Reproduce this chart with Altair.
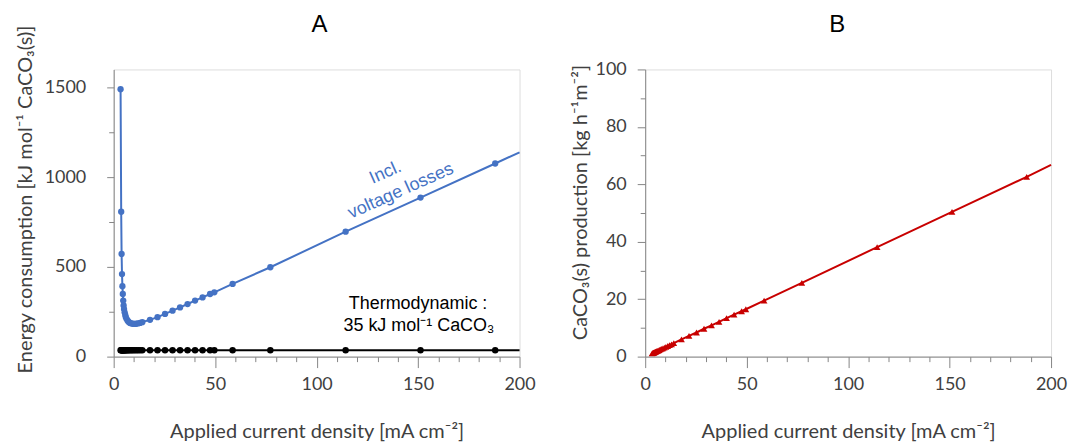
import altair as alt
import pandas as pd

# ---------------- data ----------------
current_density = [3.4, 3.7, 3.9, 4.1, 4.3, 4.5, 4.7, 4.9, 5.1, 5.4, 5.7, 6.0, 6.4, 6.9,
                   7.4, 8.0, 8.7, 9.4, 10.2, 11.1, 12.0, 13.0, 14.1, 17.9, 21.6, 25.3,
                   29.0, 32.7, 36.4, 40.1, 43.8, 47.5, 49.6, 58.6, 77.2, 114.3, 151.2, 188.0]
energy_incl_losses = [1490, 807, 572, 460, 392, 349, 312, 285, 265, 247, 232, 220, 209, 200,
                      193, 188, 185, 183, 182, 183, 185, 188, 192, 205, 220, 238,
                      256, 274, 293, 312, 330, 349, 358, 405, 498, 696, 886, 1076]
energy_thermodynamic = [35, 35, 35, 35, 35, 35, 35, 35, 35, 35, 35, 35, 35, 35,
                        35, 35, 35, 35, 35, 35, 35, 35, 35, 35, 35, 35,
                        35, 35, 35, 35, 35, 35, 35, 35, 35, 35, 35, 35]
production = [1.1, 1.2, 1.3, 1.4, 1.4, 1.5, 1.6, 1.6, 1.7, 1.8, 1.9, 2.0, 2.1, 2.3,
              2.5, 2.7, 2.9, 3.1, 3.4, 3.7, 4.0, 4.3, 4.7, 6.0, 7.2, 8.4,
              9.7, 10.9, 12.1, 13.4, 14.6, 15.8, 16.5, 19.5, 25.7, 38.1, 50.4, 62.6]

# the drawn lines run on to the right edge of the axes
line_end_current = [200]
line_end_energy = [1138]
line_end_thermo = [35]
line_end_production = [66.8]

# annotation texts (panel A) and where they sit, in data units
annot_text = ["Incl.", "voltage losses"]
annot_x = [134, 141.5]
annot_y = [1024, 922]
thermo_text = ["Thermodynamic :", "35 kJ mol⁻¹ CaCO₃"]
thermo_x = [150, 150.4]
thermo_y = [293, 172]

x_ticks = list(range(0, 201, 10))
y_ticks_a = list(range(0, 1501, 250))
y_ticks_b = list(range(0, 101, 10))

title_a = "A"
title_b = "B"
x_title = "Applied current density [mA cm⁻²]"
y_title_a = "Energy consumption [kJ mol⁻¹ CaCO₃(s)]"
y_title_b = "CaCO₃(s) production [kg h⁻¹m⁻²]"

# ---------------- tables ----------------
pts = pd.DataFrame({"j": current_density, "E": energy_incl_losses,
                    "T": energy_thermodynamic, "P": production})
ext = pd.DataFrame({"j": line_end_current, "E": line_end_energy,
                    "T": line_end_thermo, "P": line_end_production})
lines = pd.concat([pts, ext], ignore_index=True)
annot = pd.DataFrame({"t": annot_text, "x": annot_x, "y": annot_y})
thermo = pd.DataFrame({"t": thermo_text, "x": thermo_x, "y": thermo_y})

BLUE = "#4472C4"
RED = "#C80000"
AXIS_GRAY = "#868686"
W, H = 407, 288

common_axis = dict(domainColor=AXIS_GRAY, tickColor=AXIS_GRAY, labelColor="#404040",
                   titleColor="#404040", labelFont="Lato", titleFont="Lato",
                   labelFontSize=18, titleFontSize=20, titleFontWeight="normal",
                   grid=False, labelFlush=False, labelOverlap=False, format="d")

x_axis = alt.Axis(values=x_ticks, title=x_title,
                  labelExpr="datum.value % 50 === 0 ? datum.label : ''",
                  tickSize={"condition": {"test": "datum.value % 50 === 0", "value": 11}, "value": 5},
                  labelPadding=8, titlePadding=28, **common_axis)
y_axis_a = alt.Axis(values=y_ticks_a, title=y_title_a, titleY=130,
                    labelExpr="datum.value % 500 === 0 ? datum.label : ''",
                    tickSize={"condition": {"test": "datum.value % 500 === 0", "value": 7}, "value": 5},
                    labelPadding=21, titlePadding=9, **common_axis)
y_axis_b = alt.Axis(values=y_ticks_b, title=y_title_b, titleY=133,
                    labelExpr="datum.value % 20 === 0 ? datum.label : ''",
                    tickSize={"condition": {"test": "datum.value % 20 === 0", "value": 8}, "value": 5},
                    labelPadding=11, titlePadding=5, **common_axis)

x_scale = alt.Scale(domain=[0, 200], nice=False, zero=True)
ya_scale = alt.Scale(domain=[0, 1600], nice=False)
yb_scale = alt.Scale(domain=[0, 100], nice=False)


def X(field):
    return alt.X(f"{field}:Q", scale=x_scale, axis=x_axis)


def YA(field):
    return alt.Y(f"{field}:Q", scale=ya_scale, axis=y_axis_a)


def YB(field):
    return alt.Y(f"{field}:Q", scale=yb_scale, axis=y_axis_b)


# ---------------- panel A ----------------
blue_line = alt.Chart(lines).mark_line(color=BLUE, strokeWidth=2).encode(
    x=X("j"), y=YA("E"), order="j:Q")
blue_pts = alt.Chart(pts).mark_circle(color=BLUE, size=40, opacity=1).encode(
    x=X("j"), y=YA("E"))
black_line = alt.Chart(lines).mark_line(color="black", strokeWidth=2).encode(
    x=X("j"), y=YA("T"), order="j:Q")
black_pts = alt.Chart(pts).mark_circle(color="black", size=42, opacity=1).encode(
    x=X("j"), y=YA("T"))
blue_text = alt.Chart(annot).mark_text(
    color=BLUE, font="Liberation Sans", fontSize=18, angle=336,
    align="center", baseline="middle").encode(x=X("x"), y=YA("y"), text="t:N")
black_text = alt.Chart(thermo).mark_text(
    color="black", font="Liberation Sans", fontSize=18,
    align="center", baseline="middle").encode(x=X("x"), y=YA("y"), text="t:N")

panel_a = alt.layer(blue_line, black_line, blue_pts, black_pts, blue_text, black_text).properties(
    width=W, height=H,
    title=alt.TitleParams(title_a, fontSize=24, font="Liberation Sans", fontWeight="normal",
                          color="black", offset=-12, dx=3))

# ---------------- panel B ----------------
red_line = alt.Chart(lines).mark_line(color=RED, strokeWidth=2).encode(
    x=X("j"), y=YB("P"), order="j:Q")
red_pts = alt.Chart(pts).mark_point(shape="triangle-up", filled=True, size=45,
                                    color=RED, opacity=1).encode(x=X("j"), y=YB("P"))

panel_b = alt.layer(red_line, red_pts).properties(
    width=W, height=H,
    title=alt.TitleParams(title_b, fontSize=24, font="Liberation Sans", fontWeight="normal",
                          color="black", offset=24, dx=-11))

chart = alt.hconcat(panel_a, panel_b, spacing=126, bounds="flush").properties(
    padding={"left": 14, "top": 11, "right": 2, "bottom": 3}
).configure_view(stroke=AXIS_GRAY, strokeWidth=1).configure(background="white")

chart.save("out.html", embed_options={"renderer": "svg", "actions": False})
